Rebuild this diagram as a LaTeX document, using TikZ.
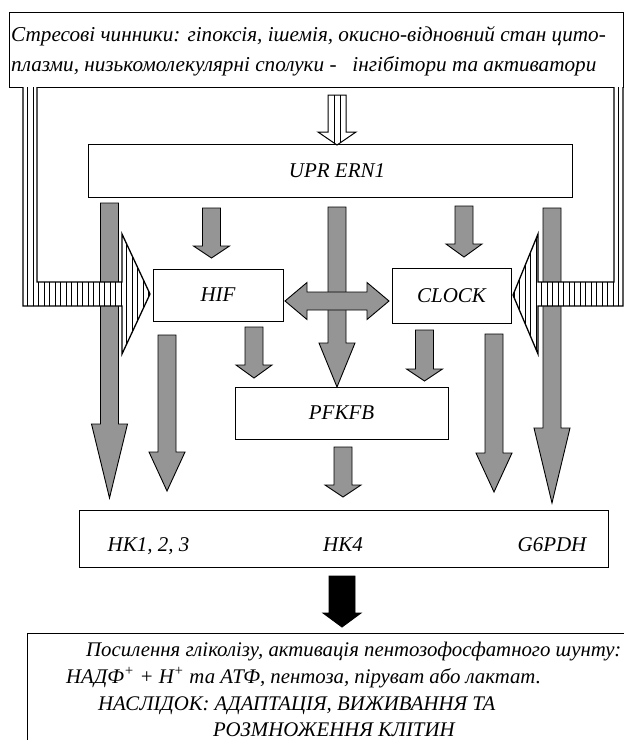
\documentclass[tikz,border=0pt]{standalone}
\usepackage{fontspec}
\setmainfont{Liberation Serif}[ItalicFont={Liberation Serif Italic}]
\usetikzlibrary{calc}
\definecolor{shaftGray}{HTML}{959595}
\tikzset{
    box/.style={draw, line width=1pt, fill=white, inner sep=0pt, outer sep=0pt,
                font=\fontsize{21}{25}\selectfont\itshape},
    txt/.style={inner sep=0pt, anchor=base west,
                font=\fontsize{20.8}{24}\selectfont\itshape},
    lbl/.style={inner sep=0pt, anchor=base,
                font=\fontsize{21}{25}\selectfont\itshape},
    garrow/.style={draw, line width=0.9pt, fill=shaftGray},
    barrow/.style={draw, line width=0.9pt, fill=black},
    band/.style={draw, line width=1.3pt},
    hatch/.style={line width=0.8pt},
}
% fat arrow pointing down: [style]{from}{tip}{head length}{shaft half}{head half}
\newcommand{\fatdown}[6][garrow]{%
  \draw[#1] let \p1=(#2), \p2=(#3) in
    (\x1-#5pt,\y1) -- (\x1-#5pt,\y2+#4pt) -- (\x1-#6pt,\y2+#4pt) -- (\x2,\y2)
    -- (\x1+#6pt,\y2+#4pt) -- (\x1+#5pt,\y2+#4pt) -- (\x1+#5pt,\y1) -- cycle;}

\begin{document}
\begin{tikzpicture}[x=1pt, y=-1pt]
\useasboundingbox (0,0) rectangle (624,740);

% --- stress factors ---
\node[box, minimum width=614pt, minimum height=75pt] (stress) at (316,49.5) {};
\node[txt, font=\fontsize{21.2}{25}\selectfont\itshape] (stress-a) at (11,41)
    {Стресові чинники: гіпоксія, ішемія, окисно-відновний стан цито-};
\node[txt, font=\fontsize{21.2}{25}\selectfont\itshape] (stress-b) at (11,71)
    {плазми, низькомолекулярні сполуки -\ \ \ інгібітори та активатори};

% --- regulators ---
\node[box, minimum width=484pt, minimum height=53pt] (upr) at (330,170.5)
    {\hspace*{14pt}UPR ERN1};
\node[box, minimum width=130pt, minimum height=52pt] (hif) at (218,295) {HIF};
\node[box, minimum width=119pt, minimum height=55pt] (clock) at (451.5,295.5) {CLOCK};
\node[box, minimum width=213pt, minimum height=52pt] (pfkfb) at (341.5,413) {PFKFB};

% --- enzymes ---
\node[box, minimum width=529pt, minimum height=57pt] (hk) at (343.5,538.5) {};
\node[lbl] (hk-a) at (148.5,551) {HK1, 2, 3};
\node[lbl] (hk-b) at (343,551) {HK4};
\node[lbl] (hk-c) at (552,551) {G6PDH};

% --- result ---
\draw[line width=1pt] (630,633) -- (27,633) -- (27,750);
\node[txt] (res-a) at (86,656)
    {Посилення гліколізу, активація пентозофосфатного шунту:};
\node[txt] (res-b) at (66,683)
    {НАДФ\textsuperscript{+} + Н\textsuperscript{+} та АТФ, пентоза, піруват або лактат.};
\node[txt] (res-c) at (98,710) {НАСЛІДОК: АДАПТАЦІЯ, ВИЖИВАННЯ ТА};
\node[txt] (res-d) at (213,736) {РОЗМНОЖЕННЯ КЛІТИН};

% --- gray arrows ---
\coordinate (l1s) at (109.5,203); \coordinate (l1e) at (109.5,498);
\coordinate (l2s) at (167,335);   \coordinate (l2e) at (167,491);
\coordinate (hs)  at (211.5,208); \coordinate (he)  at (211.5,258);
\coordinate (cs)  at (464,206);   \coordinate (ce)  at (464,257);
\coordinate (ms)  at (337,207);   \coordinate (me)  at (ms |- pfkfb.north);
\coordinate (hps) at (254,327);   \coordinate (hpe) at (254,378);
\coordinate (cps) at (424.5,330); \coordinate (cpe) at (424.5,381);
\coordinate (ps)  at (343,447);   \coordinate (pe)  at (343,497);
\coordinate (r2s) at (494,334);   \coordinate (r2e) at (494,492);
\coordinate (r1s) at (552,208);   \coordinate (r1e) at (552,503);
\coordinate (ks)  at (342,576);   \coordinate (ke)  at (342,627);

\fatdown{l1s}{l1e}{74}{9}{18}
\fatdown{l2s}{l2e}{39}{9}{18}
\fatdown{hs}{he}{12}{9}{18}
\fatdown{cs}{ce}{13}{9}{18}
\fatdown{ms}{me}{44}{9}{18}
\fatdown{hps}{hpe}{13}{9}{18}
\fatdown{cps}{cpe}{12}{9}{18}
\fatdown{ps}{pe}{12}{9}{18}
\fatdown{r2s}{r2e}{39}{9}{18}
\fatdown{r1s}{r1e}{75}{9}{18}
\fatdown[barrow]{ks}{ke}{14}{13}{19}

% HIF <-> CLOCK
\coordinate (dl) at (285,301); \coordinate (dr) at (389,301);
\draw[garrow] let \p1=(dl), \p2=(dr) in
    (\p1) -- (\x1+22pt,\y1+18.5pt) -- (\x1+22pt,\y1+9pt) -- (\x2-22pt,\y2+9pt)
    -- (\x2-22pt,\y2+18.5pt) -- (\p2) -- (\x2-22pt,\y2-18.5pt) -- (\x2-22pt,\y2-9pt)
    -- (\x1+22pt,\y1-9pt) -- (\x1+22pt,\y1-18.5pt) -- cycle;

% --- hatched arrows from the stress box ---
\begin{scope}
  \clip (328,95) -- (328,132) -- (318,132) -- (337,145) -- (356,132)
        -- (346,132) -- (346,95) -- cycle;
  \fill[white] (318,95) rectangle (356,145);
  \foreach \x in {334,340} \draw[hatch] (\x,95) -- (\x,145);
\end{scope}
\draw[band, line width=1pt] (328,95) -- (328,132) -- (318,132) -- (337,145)
    -- (356,132) -- (346,132) -- (346,95) -- cycle;

\begin{scope}
  \clip (23,87) -- (23,306) -- (122,306) -- (122,354) -- (150,294) -- (122,234)
        -- (122,282) -- (37,282) -- (37,87) -- cycle;
  \fill[white] (23,87) rectangle (150,354);
  \foreach \x in {27.5,33,...,150} \draw[hatch] (\x,87) -- (\x,354);
\end{scope}
\draw[band] (23,87) -- (23,306) -- (122,306) -- (122,354) -- (150,294)
    -- (122,234) -- (122,282) -- (37,282) -- (37,87);

\begin{scope}
  \clip (614,87) -- (614,282) -- (538,282) -- (538,234) -- (513,295) -- (538,354)
        -- (538,306) -- (623,306) -- (623,87) -- cycle;
  \fill[white] (513,87) rectangle (623,354);
  \foreach \x in {618.5,613,...,513} \draw[hatch] (\x,87) -- (\x,354);
\end{scope}
\draw[band] (614,87) -- (614,282) -- (538,282) -- (538,234) -- (513,295)
    -- (538,354) -- (538,306) -- (623,306) -- (623,87);
\end{tikzpicture}
\end{document}
